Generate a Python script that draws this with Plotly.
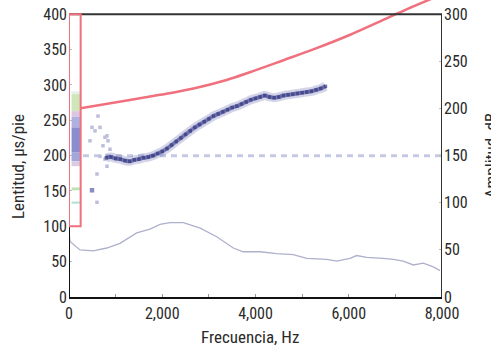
import plotly.graph_objects as go

# ---------------- data ----------------
# pink curve (left axis, us/ft)
curve_freq = [250, 1240, 1950, 2670, 3380, 3880, 4600, 5310, 6030, 6740, 7240, 7850]
curve_val = [267, 278, 286, 295, 307, 318, 335, 352, 371, 392, 407, 424]

# dense dispersion band (left axis)
band_freq = [800, 900, 1000, 1100, 1200, 1300, 1400, 1500, 1600, 1700, 1800, 1900,
             2000, 2100, 2200, 2300, 2400, 2500, 2600, 2700, 2800, 2900, 3000, 3100,
             3200, 3300, 3400, 3500, 3600, 3700, 3800, 3900, 4000, 4100, 4200, 4300,
             4400, 4500, 4600, 4700, 4800, 4900, 5000, 5100, 5200, 5300, 5400, 5500]
band_val = [197, 198, 196, 195, 193, 192, 194, 195, 197, 198, 200, 203,
            206, 210, 215, 220, 225, 230, 235, 240, 244, 248, 252, 256,
            259, 262, 265, 268, 270, 273, 276, 279, 281, 283, 285, 283,
            282, 283, 285, 286, 287, 288, 289, 290, 291, 293, 295, 298]

# faint scattered low-frequency points (left axis)
scat_freq = [622, 493, 558, 815, 450, 729, 665, 600, 600, 772, 836, 879, 815, 772, 665]
scat_val = [256, 240, 235, 228, 221, 214, 199, 174, 134, 226, 221, 209, 185, 195, 240]
dark_freq = [493]
dark_val = [151]

# dashed reference line (left axis)
ref_freq = [300, 8000]
ref_val = [200, 200]

# amplitude curve (right axis, dB)
amp_freq = [0, 21, 236, 521, 809, 1094, 1452, 1737, 1952, 2166, 2452, 2815, 3168, 3524,
            3738, 4096, 4455, 4811, 5098, 5527, 5742, 6027, 6170, 6385, 6741, 6956,
            7170, 7385, 7599, 7814, 7957]
amp_val = [70, 59, 50, 49, 52, 57, 68, 72, 77, 79, 79, 73, 64, 52,
           48, 48, 46, 45, 41, 40, 38, 41, 44, 42, 41, 40,
           38, 34, 36, 32, 28]

# colour strip inside the pink box (left-axis ranges)
strip_lo = [287, 263, 255, 240, 205, 192, 185, 151, 132]
strip_hi = [291, 287, 263, 255, 240, 205, 192, 155, 135]
strip_col = ["#e2f1ec", "#cfe6bb", "#dcc6e0", "#aeb1df", "#8a8ecf", "#a3a6d9",
             "#d9cbe4", "#bde2b2", "#b4e2d2"]

x_ticks = [0, 2000, 4000, 6000, 8000]
x_labels = ["0", "2,000", "4,000", "6,000", "8,000"]
y_ticks = [0, 50, 100, 150, 200, 250, 300, 350, 400]
y2_ticks = [0, 50, 100, 150, 200, 250, 300]

PINK = "#f0707e"
FONT = "Liberation Sans Narrow, Roboto Condensed, Arial Narrow, Roboto, sans-serif"
TXT = "#2a2a2a"

fig = go.Figure()

fig.add_trace(go.Scatter(x=amp_freq, y=amp_val, yaxis="y2", mode="lines",
                         line=dict(color="#aeb0cc", width=1.3), hoverinfo="skip"))
fig.add_trace(go.Scatter(x=ref_freq, y=ref_val, mode="lines",
                         line=dict(color="#c6c9e3", width=3, dash="6px,5px")))
fig.add_trace(go.Scatter(x=scat_freq, y=scat_val, mode="markers",
                         marker=dict(symbol="square", size=3.5, color="#bcbedd")))
fig.add_trace(go.Scatter(x=dark_freq, y=dark_val, mode="markers",
                         marker=dict(symbol="square", size=4.5, color="#8a8dc0")))
fig.add_trace(go.Scatter(x=band_freq, y=band_val, mode="lines",
                         line=dict(color="rgba(110,114,180,0.3)", width=9, shape="spline")))
fig.add_trace(go.Scatter(x=band_freq, y=band_val, mode="lines+markers",
                         line=dict(color="rgba(60,64,140,0.6)", width=4, shape="spline"),
                         marker=dict(symbol="square", size=3.5, color="rgba(50,54,128,0.7)")))
fig.add_trace(go.Scatter(x=curve_freq, y=curve_val, mode="lines",
                         line=dict(color=PINK, width=2.5, shape="spline")))

shapes = []
for lo, hi, c in zip(strip_lo, strip_hi, strip_col):
    shapes.append(dict(type="rect", xref="x", yref="y", x0=55, x1=235, y0=lo, y1=hi,
                       fillcolor=c, line=dict(width=0), layer="above"))
shapes += [
    dict(type="line", xref="x", yref="y", x0=0, x1=0, y0=0, y1=400,
         line=dict(color="#111", width=2)),
    dict(type="line", xref="x", yref="y", x0=8000, x1=8000, y0=0, y1=400,
         line=dict(color="#333", width=2)),
    dict(type="line", xref="x", yref="y", x0=0, x1=8000, y0=400, y1=400,
         line=dict(color="#333", width=2)),
    dict(type="rect", xref="x", yref="y", x0=0, x1=250, y0=100, y1=400,
         line=dict(color=PINK, width=2)),
]

tickfont = dict(family=FONT, size=16, color=TXT)
fig.update_layout(
    width=491, height=348,
    margin=dict(l=69, r=49, t=0, b=51),
    paper_bgcolor="white", plot_bgcolor="white",
    showlegend=False,
    font=dict(family=FONT, size=16, color=TXT),
    xaxis=dict(range=[0, 8000], showgrid=False, zeroline=False,
               showline=True, linecolor="#111", linewidth=2,
               tickvals=x_ticks, ticktext=x_labels, ticks="inside", ticklen=3,
               tickcolor="#999", tickfont=tickfont, ticklabelstandoff=1,
               minor=dict(dtick=1000, ticks="inside", ticklen=3, tickcolor="#999")),
    yaxis=dict(range=[0, 420.2], showgrid=False, zeroline=False, showline=False,
               tickvals=y_ticks, ticks="inside", ticklen=3, tickcolor="#bbb",
               tickfont=tickfont, ticklabelstandoff=1),
    yaxis2=dict(range=[0, 315.2], overlaying="y", side="right", showgrid=False,
                zeroline=False, showline=False, tickvals=y2_ticks, ticks="inside",
                ticklen=3, tickcolor="#bbb", tickfont=tickfont, ticklabelstandoff=1),
    shapes=shapes,
    annotations=[
        dict(text="Frecuencia, Hz", xref="paper", yref="paper", x=0.4853, y=-0.1347,
             showarrow=False, xanchor="center", yanchor="middle",
             font=dict(family=FONT, size=17, color=TXT)),
        dict(text="Lentitud, µs/pie", xref="paper", yref="paper", x=-0.1367, y=0.4377,
             showarrow=False, textangle=-90, xanchor="center", yanchor="middle",
             font=dict(family=FONT, size=17, color=TXT)),
        dict(text="Amplitud, dB", xref="paper", yref="paper", x=1.132, y=0.4747,
             showarrow=False, textangle=-90, xanchor="center", yanchor="middle",
             font=dict(family=FONT, size=17, color=TXT)),
    ],
)

fig.write_html("out.html")
